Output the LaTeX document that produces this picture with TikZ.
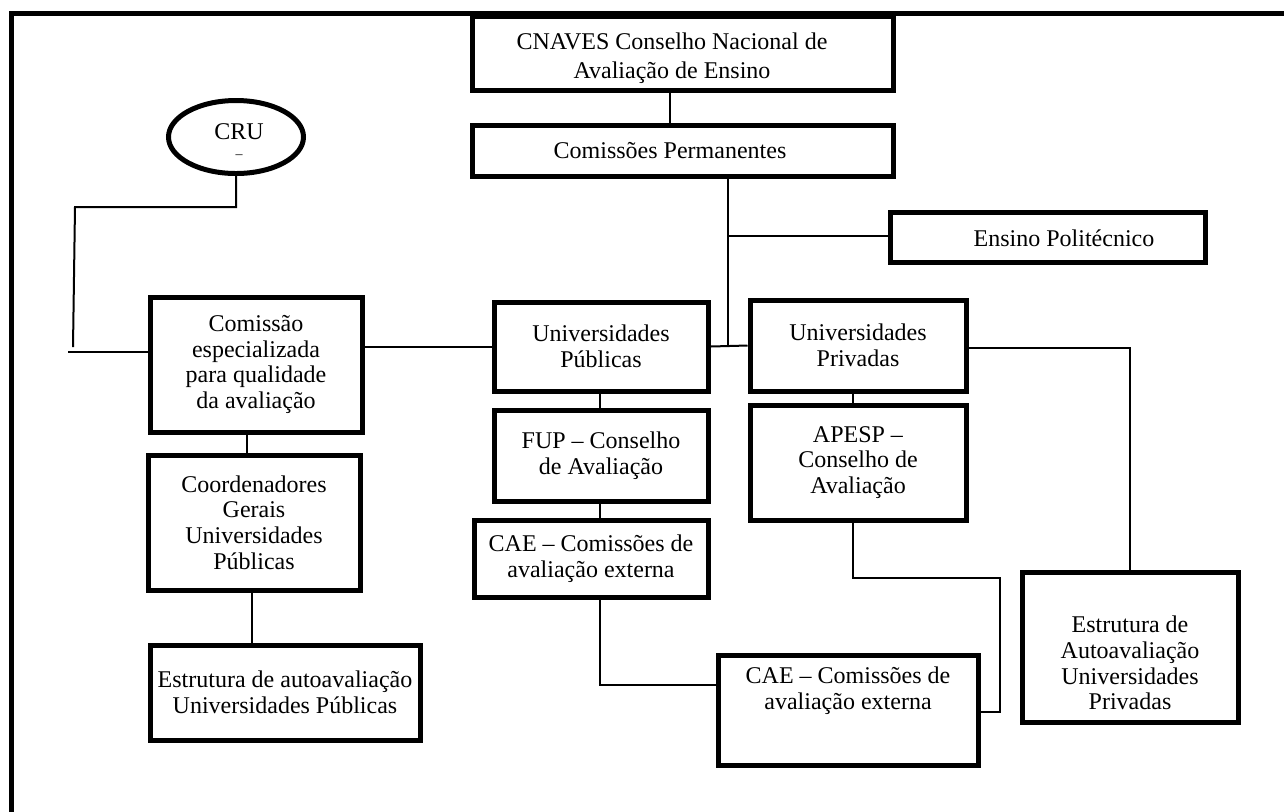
\documentclass[tikz,border=0pt]{standalone}
\usepackage{fontspec}
\setmainfont{Liberation Serif}
\usetikzlibrary{shapes.geometric}
\begin{document}
\begin{tikzpicture}[x=0.5pt,y=-0.5pt,
  box/.style={draw, line width=2.5pt, align=center, inner sep=0pt, font=\fontsize{12}{12.8}\selectfont},
  sz/.style 2 args={minimum width=#1*0.5pt, minimum height=#2*0.5pt},
  conn/.style={line width=1pt},
  txt/.style={align=center, inner sep=0pt, font=\fontsize{12}{12.8}\selectfont}]
\useasboundingbox (0,0) rectangle (1284,811);
\clip (0,0) rectangle (1284,811);
% outer frame
\draw[line width=2.5pt] (11,13.5) rectangle (1320,840);
% boxes
\node[box, sz={421}{74}] (cnaves) at (682.5,53) {};
\node[txt, font=\fontsize{12}{14.5}\selectfont] (cnavest) at (672,58) {CNAVES Conselho Nacional de\\Avaliação de Ensino};
\node[box, sz={421}{51}] (comperm) at (682.5,150.5) {};
\node[txt] (compermt) at (670,151) {Comissões Permanentes};
\node[box, sz={315}{50}] (ensino) at (1047.5,237) {};
\node[txt] (ensinot) at (1064,238) {Ensino Politécnico};
\node[draw, ellipse, line width=2.5pt, sz={135}{73}, inner sep=0pt] (cru) at (236,137) {};
\node[txt] (crut) at (239,141) {CRU\\[-3pt]{\fontsize{7}{7}\selectfont –}};
\node[box, sz={212}{135}] (comesp) at (256,364.5) {Comissão\\especializada\\para qualidade\\da avaliação};
\node[box, sz={212}{135}] (coord) at (254,522.5) {Coordenadores\\Gerais\\Universidades\\Públicas};
\node[box, sz={270}{95}] (estpub) at (285,692.5) {Estrutura de autoavaliação\\Universidades Públicas};
\node[box, sz={214}{89}] (upub) at (601,346.5) {Universidades\\Públicas};
\node[box, sz={214}{91}] (fup) at (601,455.5) {FUP – Conselho\\de Avaliação};
\node[box, sz={234}{77}] (cae1) at (591,558.5) {CAE – Comissões de\\avaliação externa};
\node[box, sz={216}{91}] (upriv) at (858,345.5) {Universidades\\Privadas};
\node[box, sz={216}{115}] (apesp) at (858,462.5) {APESP –\\Conselho de\\Avaliação};
\node[box, sz={216}{150}] (estpriv) at (1130,647) {};
\node[txt] (estprivt) at (1130,663) {Estrutura de\\Autoavaliação\\Universidades\\Privadas};
\node[box, sz={260}{110}] (cae2) at (848,710) {};
\node[txt] (cae2t) at (848,691) {CAE – Comissões de\\avaliação externa};
% connectors
\coordinate (k1) at (670,0);
\draw[conn] (cnaves.south -| k1) -- (comperm.north -| k1);
\coordinate (j1) at (728,346.5);
\coordinate (j2) at (728,236);
\draw[conn] (comperm.south -| j1) -- (j1);
\draw[conn] (j2) -- (ensino.west |- j2);
\draw[conn] (upub.east) -- (upriv.west);
\draw[conn] (comesp.east |- upub.west) -- (upub.west);
\coordinate (c1) at (75,207);
\coordinate (c2) at (73,347);
\coordinate (c3) at (68,352);
\draw[conn] (cru.south) |- (c1) -- (c2);
\draw[conn] (c3) -- (comesp.west |- c3);
\coordinate (k2) at (247,0);
\draw[conn] (comesp.south -| k2) -- (coord.north -| k2);
\coordinate (k3) at (252,0);
\draw[conn] (coord.south -| k3) -- (estpub.north -| k3);
\coordinate (k4) at (600,0);
\draw[conn] (upub.south -| k4) -- (fup.north -| k4);
\draw[conn] (fup.south -| k4) -- (cae1.north -| k4);
\coordinate (c5) at (600,685);
\draw[conn] (cae1.south -| c5) -- (c5) -- (cae2.west |- c5);
\coordinate (k5) at (853,0);
\draw[conn] (upriv.south -| k5) -- (apesp.north -| k5);
\coordinate (c6) at (853,578);
\coordinate (c7) at (1000,578);
\coordinate (c8) at (1000,712);
\draw[conn] (apesp.south -| c6) -- (c6) -- (c7) -- (c8) -- (cae2.east |- c8);
\coordinate (c9) at (1130,348);
\draw[conn] (upriv.east |- c9) -- (c9) -- (estpriv.north);
\end{tikzpicture}
\end{document}
